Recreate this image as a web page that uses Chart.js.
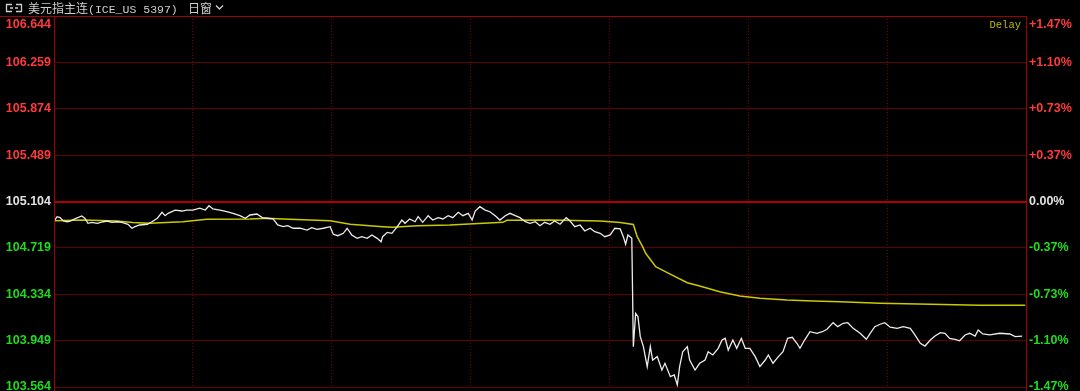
<!DOCTYPE html>
<html>
<head>
<meta charset="utf-8">
<script src="https://cdn.jsdelivr.net/npm/chart.js@4"></script>
<style>
  html, body { margin: 0; padding: 0; background: #000; }
  #wrap { position: relative; width: 1080px; height: 391px; overflow: hidden; }
  #chart { position: absolute; left: 0; top: 0; }
  #title { position: absolute; left: 0; top: 0; height: 15px; line-height: 15px; color: #cfcfcf; white-space: nowrap; }
  #title .cn { font-family: "Noto Sans CJK SC", sans-serif; font-size: 12px; }
  #title .mono { font-family: "Liberation Mono", monospace; font-size: 11.5px; }
  #title svg { position: absolute; }
</style>
</head>
<body>
<div id="wrap">
  <canvas id="chart" width="1080" height="391"></canvas>
  <div id="title">
    <svg style="left:5px;top:3px" width="18" height="10" viewBox="0 0 18 10">
      <path d="M7 1.5 H1.5 V8.5 H7 M5 5 H8" stroke="#cfcfcf" stroke-width="1.3" fill="none"/>
      <path d="M11 1.5 H16.5 V8.5 H11 M13 5 H10" stroke="#cfcfcf" stroke-width="1.3" fill="none"/>
    </svg>
    <span style="position:absolute;left:28px;top:0"><span class="cn">美元指主连</span><span class="mono">(ICE_US 5397)</span></span>
    <span class="cn" style="position:absolute;left:188px;top:0">日窗</span>
    <svg style="left:215px;top:4px" width="9" height="7" viewBox="0 0 9 7">
      <polyline points="1,1.5 4.5,5 8,1.5" stroke="#cfcfcf" stroke-width="1.4" fill="none"/>
    </svg>
  </div>
</div>
<script>
const prevClose = 105.104;
const priceTicks = [106.644, 106.259, 105.874, 105.489, 105.104, 104.719, 104.334, 103.949, 103.564];
const pctTicks = ['+1.47%', '+1.10%', '+0.73%', '+0.37%', '0.00%', '-0.37%', '-0.73%', '-1.10%', '-1.47%'];
const timeGrid = [180, 360, 540, 720, 900, 1080];

// minutes from session open
const priceTimes = [1, 4, 8, 12, 17, 21, 27, 36, 40, 44, 49, 56, 64, 69, 75, 82, 88, 96, 101, 105,
  111, 121, 127, 134, 140, 144, 148, 157, 166, 172, 180, 189, 196, 201, 206, 215, 224, 232, 241, 248,
  254, 263, 270, 276, 284, 290, 297, 303, 310, 319, 328, 334, 341, 349, 358, 362, 368, 375, 380, 386,
  393, 399, 406, 412, 419, 424, 426, 432, 438, 445, 451, 455, 461, 468, 472, 478, 485, 491, 498, 504,
  511, 517, 524, 530, 537, 542, 546, 552, 559, 565, 572, 578, 585, 591, 598, 604, 611, 617, 624, 630,
  636, 643, 649, 656, 664, 669, 675, 682, 688, 695, 701, 708, 714, 721, 727, 734, 738, 741, 744, 749,
  751, 754, 757, 760, 764, 769, 773, 776, 782, 788, 792, 799, 804, 808, 811, 815, 821, 824, 831, 837,
  844, 848, 854, 861, 866, 870, 874, 880, 885, 891, 896, 902, 909, 915, 922, 926, 932, 939, 945, 951,
  957, 963, 967, 973, 980, 989, 996, 1002, 1010, 1016, 1023, 1029, 1036, 1045, 1053, 1058, 1064, 1071, 1077, 1084,
  1093, 1101, 1110, 1116, 1123, 1129, 1136, 1142, 1149, 1155, 1161, 1168, 1174, 1181, 1187, 1194, 1198, 1204, 1213, 1226,
  1239, 1246, 1255];
const priceValues = [104.950, 104.978, 104.970, 104.942, 104.936, 104.942, 104.959, 104.984, 104.965, 104.923,
  104.931, 104.923, 104.936, 104.942, 104.931, 104.936, 104.931, 104.915, 104.882, 104.895,
  104.909, 104.915, 104.936, 104.965, 105.014, 104.986, 105.006, 105.033, 105.025, 105.033,
  105.033, 105.048, 105.033, 105.069, 105.042, 105.033, 105.019, 105.006, 104.986, 104.965,
  104.992, 105.000, 104.970, 104.965, 104.959, 104.909, 104.895, 104.903, 104.882, 104.882,
  104.867, 104.887, 104.873, 104.882, 104.895, 104.832, 104.820, 104.840, 104.882, 104.826,
  104.798, 104.812, 104.798, 104.826, 104.798, 104.770, 104.812, 104.848, 104.840, 104.895,
  104.950, 104.923, 104.959, 104.936, 104.978, 104.931, 104.986, 104.950, 104.970, 104.959,
  104.986, 104.970, 105.014, 104.986, 105.006, 104.950, 105.025, 105.061, 105.033, 105.019,
  104.986, 104.950, 104.986, 105.006, 104.986, 104.970, 104.936, 104.923, 104.936, 104.903,
  104.931, 104.915, 104.942, 104.915, 104.970, 104.942, 104.895, 104.909, 104.859, 104.882,
  104.853, 104.840, 104.812, 104.826, 104.882, 104.876, 104.812, 104.749, 104.826, 104.798,
  103.899, 104.176, 104.148, 103.982, 103.899, 103.733, 103.899, 103.788, 103.816, 103.705,
  103.761, 103.650, 103.664, 103.581, 103.733, 103.857, 103.899, 103.788, 103.705, 103.761,
  103.788, 103.857, 103.830, 103.885, 103.954, 103.968, 103.871, 103.954, 103.885, 103.968,
  103.885, 103.885, 103.816, 103.733, 103.788, 103.830, 103.761, 103.816, 103.857, 103.968,
  103.977, 103.927, 103.885, 103.954, 104.023, 104.010, 104.023, 104.043, 104.098, 104.065,
  104.093, 104.098, 104.051, 104.010, 103.960, 104.010, 104.065, 104.085, 104.098, 104.060,
  104.051, 104.065, 104.051, 103.996, 103.927, 103.904, 103.954, 103.987, 104.015, 104.010,
  103.968, 103.960, 103.948, 103.996, 104.010, 103.987, 104.037, 104.004, 103.996, 104.010,
  104.004, 103.982, 103.987];

const avgTimes = [1, 38, 82, 102, 124, 167, 198, 254, 276, 297, 358, 384, 426, 439, 471, 513, 582, 587,
  643, 708, 734, 751, 756, 763, 767, 780, 795, 821, 837, 863, 889, 915, 950, 984, 1019, 1071, 1136, 1200, 1259];
const avgValues = [104.945, 104.950, 104.942, 104.930, 104.923, 104.936, 104.956, 104.959, 104.965, 104.959,
  104.945, 104.915, 104.895, 104.890, 104.903, 104.909, 104.931, 104.948, 104.950, 104.942,
  104.930, 104.913, 104.812, 104.729, 104.674, 104.563, 104.513, 104.430, 104.402, 104.355,
  104.319, 104.300, 104.286, 104.278, 104.272, 104.259, 104.251, 104.242, 104.242];

const RED = '#ff3a3a', GREEN = '#1fdc1f', WHITE = '#e2e2e2';
const GRID = '#5e0000', BORDER = '#a00000';

function labelColor(v) {
  if (Math.abs(v - prevClose) < 1e-6) return WHITE;
  return v > prevClose ? RED : GREEN;
}

const framePlugin = {
  id: 'frame',
  afterDraw(chart) {
    const ctx = chart.ctx;
    const a = chart.chartArea;
    const y = chart.scales.y;
    ctx.save();
    // frame
    ctx.strokeStyle = BORDER;
    ctx.lineWidth = 1;
    ctx.beginPath();
    ctx.moveTo(0, a.top + 0.5); ctx.lineTo(a.right + 0.5, a.top + 0.5);
    ctx.moveTo(a.left + 0.5, a.top); ctx.lineTo(a.left + 0.5, chart.height);
    ctx.moveTo(a.right + 0.5, a.top); ctx.lineTo(a.right + 0.5, chart.height);
    ctx.stroke();
    // axis labels
    ctx.font = 'bold 12.5px "Liberation Sans", Arial, sans-serif';
    ctx.textBaseline = 'middle';
    priceTicks.forEach((v, i) => {
      let py = y.getPixelForValue(v);
      if (py < a.top + 9) py = a.top + 9;
      ctx.fillStyle = labelColor(v);
      ctx.textAlign = 'right';
      ctx.fillText(v.toFixed(3), a.left - 3, py);
      ctx.textAlign = 'left';
      ctx.fillText(pctTicks[i], a.right + 3, py);
    });
    ctx.font = '10.5px "Liberation Mono", monospace';
    ctx.fillStyle = '#b8b800';
    ctx.textAlign = 'right';
    ctx.fillText('Delay', a.right - 5, a.top + 9);
    ctx.restore();
  }
};

new Chart(document.getElementById('chart'), {
  type: 'line',
  data: {
    datasets: [
      {
        label: '价格',
        data: priceTimes.map((t, i) => ({ x: t, y: priceValues[i] })),
        borderColor: '#ececec',
        borderWidth: 1.3,
        pointRadius: 0,
        tension: 0
      },
      {
        label: '均价',
        data: avgTimes.map((t, i) => ({ x: t, y: avgValues[i] })),
        borderColor: '#caca00',
        borderWidth: 1.5,
        pointRadius: 0,
        tension: 0
      }
    ]
  },
  options: {
    responsive: false,
    animation: false,
    events: [],
    layout: { padding: { top: 16, bottom: 4, left: 0, right: 0 } },
    plugins: { legend: { display: false }, tooltip: { enabled: false } },
    scales: {
      x: {
        type: 'linear',
        min: 0,
        max: 1260,
        afterBuildTicks: s => { s.ticks = timeGrid.map(v => ({ value: v })); },
        afterFit: s => { s.height = 0; },
        ticks: { display: false },
        border: { display: false, dash: [1, 2] },
        grid: { color: '#7a0000', lineWidth: 1, drawTicks: false }
      },
      y: {
        position: 'left',
        min: 103.564,
        max: 106.644,
        afterBuildTicks: s => { s.ticks = priceTicks.map(v => ({ value: v })); },
        afterFit: s => { s.width = 54; },
        ticks: { display: false },
        border: { display: false },
        grid: {
          drawTicks: false,
          color: c => Math.abs(c.tick.value - prevClose) < 1e-6 ? '#b00000' : GRID,
          lineWidth: c => Math.abs(c.tick.value - prevClose) < 1e-6 ? 2 : 1
        }
      },
      y1: {
        position: 'right',
        min: 103.564,
        max: 106.644,
        afterFit: s => { s.width = 54; },
        ticks: { display: false },
        border: { display: false },
        grid: { display: false }
      }
    }
  },
  plugins: [framePlugin]
});
</script>
</body>
</html>
